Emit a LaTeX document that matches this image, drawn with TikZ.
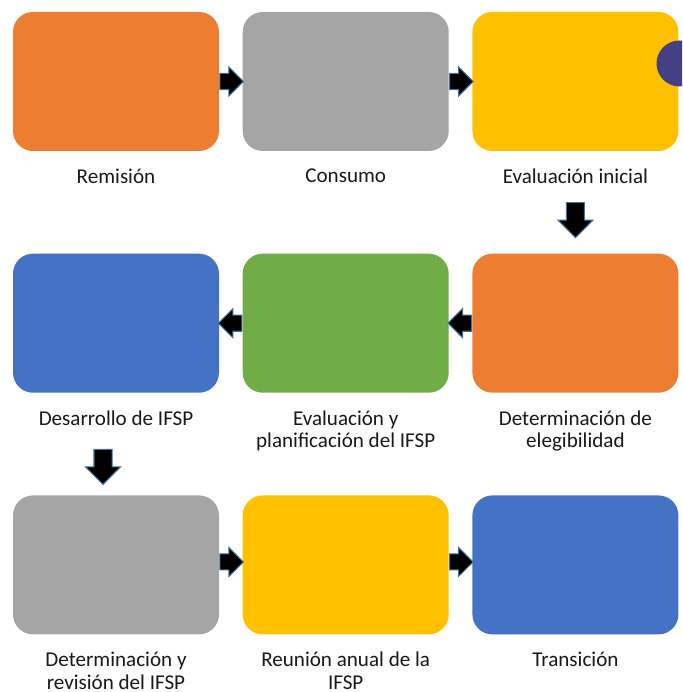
\documentclass[tikz,border=0pt]{standalone}
\usepackage{fontspec}
\setmainfont{Carlito}
\usetikzlibrary{positioning,shapes.arrows}

\definecolor{naranja}{HTML}{ED7D31}
\definecolor{gris}{HTML}{A5A5A5}
\definecolor{amarillo}{HTML}{FFC000}
\definecolor{azul}{HTML}{4472C4}
\definecolor{verde}{HTML}{70AD47}
\definecolor{morado}{HTML}{453F86}
\definecolor{borde}{HTML}{41719C}

\begin{document}
\begin{tikzpicture}[paso/.style={rectangle,rounded corners=0.4cm,minimum width=4.12cm,minimum height=2.78cm,inner sep=0pt},
    etiqueta/.style={below=0.34cm,anchor=north,align=center,inner sep=0pt,text=black!90,font=\fontsize{12}{13}\selectfont},
    flecha/.style={single arrow,fill=black,draw=borde,line width=0.6pt,inner xsep=0pt,inner ysep=0.15cm,
        minimum height=0.47cm,single arrow head extend=0.13cm,anchor=tail},
    flechabaja/.style={flecha,shape border rotate=270,inner xsep=0.17cm,inner ysep=0pt,minimum height=0.70cm,
        single arrow head extend=0.17cm,anchor=tip}]
    \useasboundingbox (0,0) rectangle (13.64,-13.84);
    % fila 1
    \node [paso,fill=naranja] (remision) at (2.32,-1.63) {};
    \node [paso,fill=gris,right=0.46cm of remision] (consumo) {};
    \node [paso,fill=amarillo,right=0.46cm of consumo] (inicial) {};
    % fila 2
    \node [paso,fill=naranja,below=2.04cm of inicial] (elegibilidad) {};
    \node [paso,fill=verde,left=0.46cm of elegibilidad] (planificacion) {};
    \node [paso,fill=azul,left=0.46cm of planificacion] (desarrollo) {};
    % fila 3
    \node [paso,fill=gris,below=2.04cm of desarrollo] (revision) {};
    \node [paso,fill=amarillo,right=0.46cm of revision] (reunion) {};
    \node [paso,fill=azul,right=0.46cm of reunion] (transicion) {};
    % forma morada en el borde
    \begin{scope}
        \clip (0,0) rectangle (13.64,-13.84);
        \fill[morado] (13.59,-1.27) circle (0.46cm);
    \end{scope}
    % etiquetas
    \node [etiqueta] at (remision.south) (lblremision) {Remisión};
    \node [etiqueta] at (consumo.south) (lblconsumo) {Consumo};
    \node [etiqueta] at (inicial.south) (lblinicial) {Evaluación inicial};
    \node [etiqueta] at (elegibilidad.south) (lblelegibilidad) {Determinación de\\elegibilidad};
    \node [etiqueta] at (planificacion.south) (lblplanificacion) {Evaluación y\\planificación del IFSP};
    \node [etiqueta] at (desarrollo.south) (lbldesarrollo) {Desarrollo de IFSP};
    \node [etiqueta] at (revision.south) (lblrevision) {Determinación y\\revisión del IFSP};
    \node [etiqueta] at (reunion.south) (lblreunion) {Reunión anual de la\\IFSP};
    \node [etiqueta] at (transicion.south) (lbltransicion) {Transición};
    % flechas
    \path (remision.east) -- node [flecha,at start] {} (consumo.west);
    \path (consumo.east) -- node [flecha,at start] {} (inicial.west);
    \path (lblinicial.south) -- node [flechabaja,at end] {} ([yshift=0.30cm]elegibilidad.north);
    \path (elegibilidad.west) -- node [flecha,shape border rotate=180,at start] {} (planificacion.east);
    \path (planificacion.west) -- node [flecha,shape border rotate=180,at start] {} (desarrollo.east);
    \path ([xshift=-0.26cm]lbldesarrollo.south) -- node [flechabaja,at end] {} ([xshift=-0.26cm,yshift=0.20cm]revision.north);
    \path ([yshift=0.06cm]revision.east) -- node [flecha,at start] {} ([yshift=0.06cm]reunion.west);
    \path ([yshift=0.06cm]reunion.east) -- node [flecha,at start] {} ([yshift=0.06cm]transicion.west);
\end{tikzpicture}
\end{document}
